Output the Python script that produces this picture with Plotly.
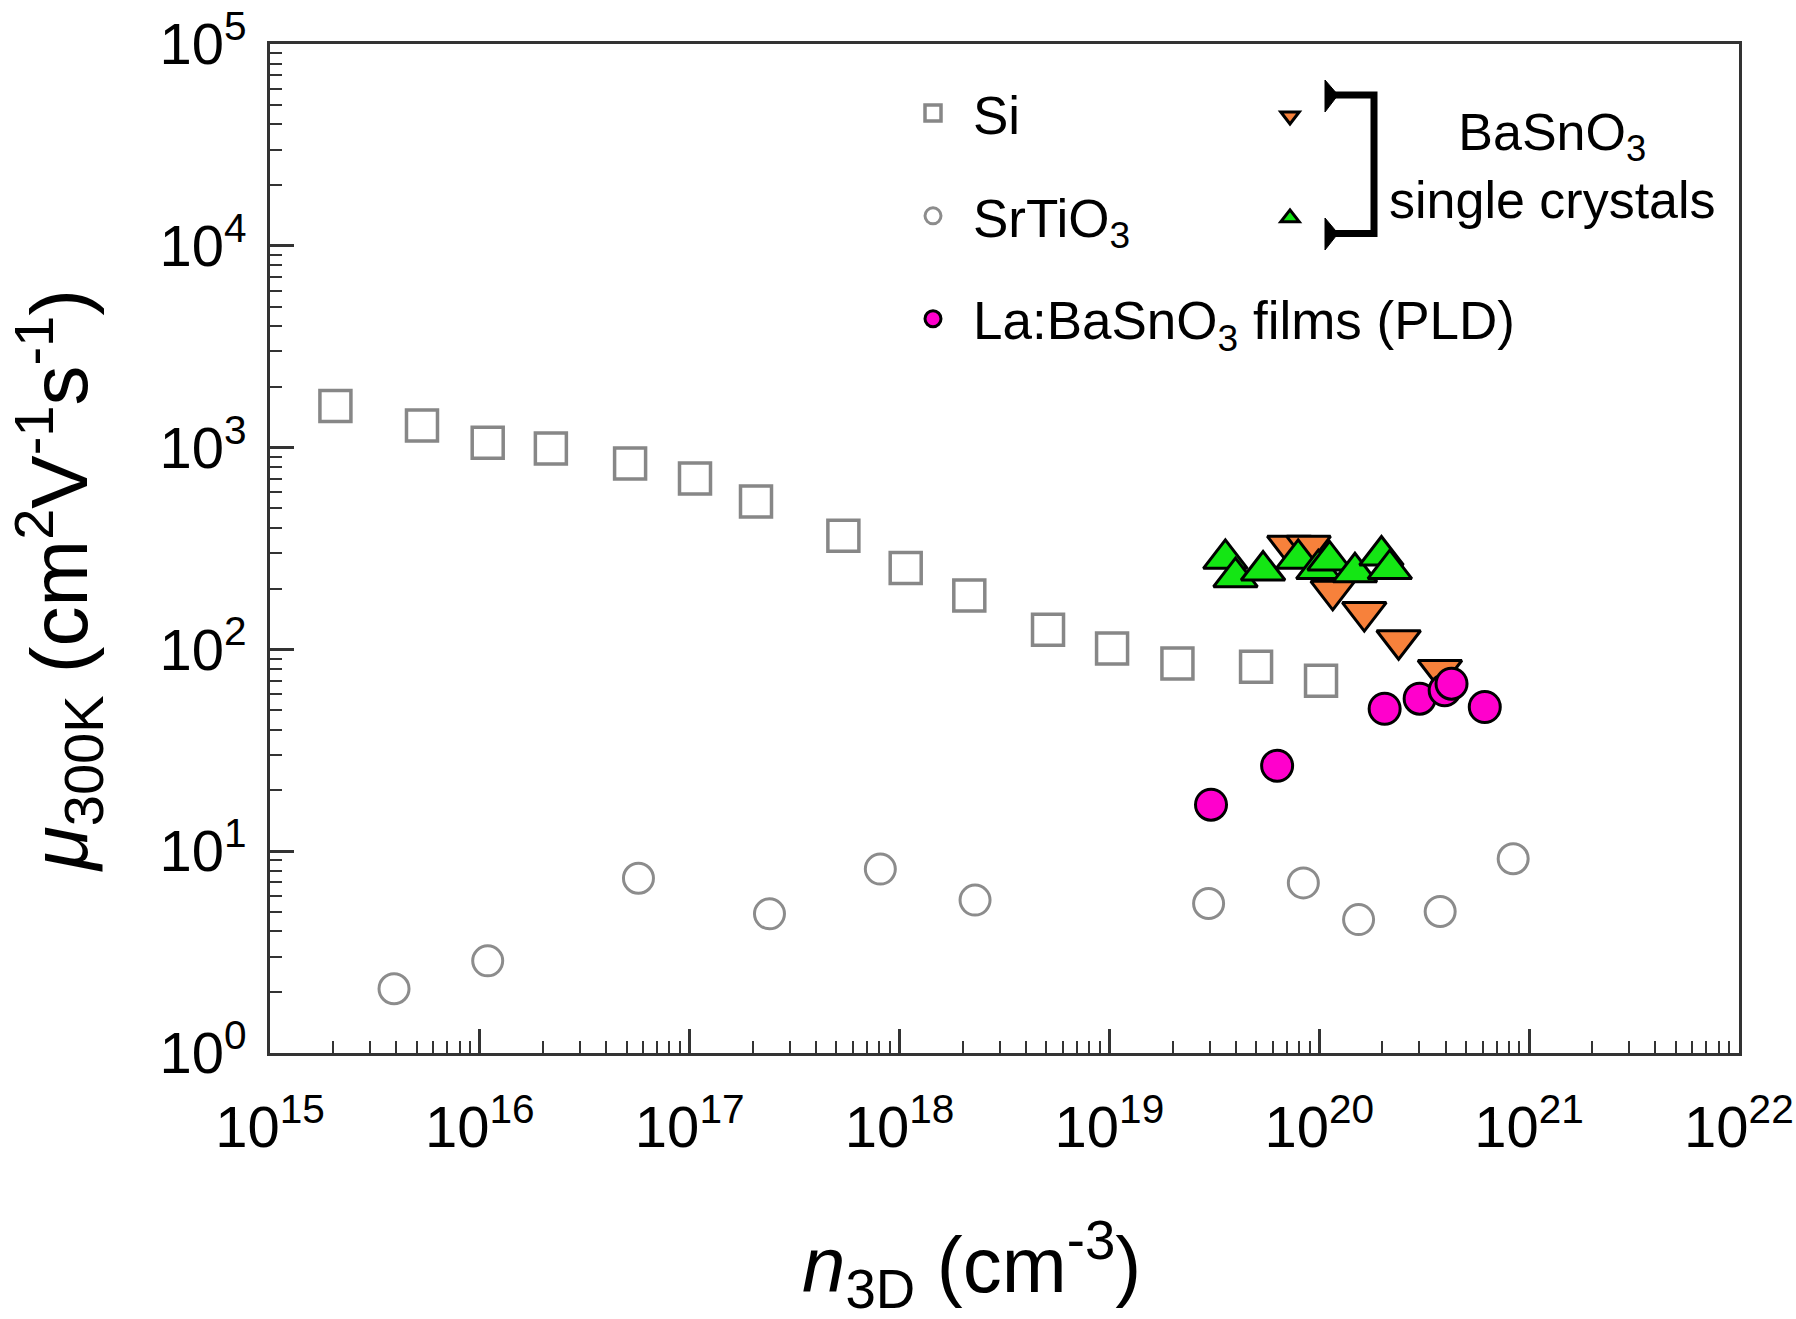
import plotly.graph_objects as go

# ---- data: room-temperature mobility vs. carrier density ----
si_n = [2.05e15, 5.3e15, 1.09e16, 2.18e16, 5.2e16, 1.06e17, 2.07e17, 5.4e17, 1.07e18, 2.15e18,
        5.1e18, 1.03e19, 2.11e19, 5.0e19, 1.02e20]
si_mu = [1607, 1286, 1056, 989, 834, 703, 541, 366, 253, 185, 125, 101, 85, 82, 70]

sto_n = [3.9e15, 1.09e16, 5.7e16, 2.4e17, 8.1e17, 2.29e18, 2.97e19, 8.4e19, 1.54e20, 3.77e20, 8.4e20]
sto_mu = [2.08, 2.86, 7.34, 4.89, 8.15, 5.72, 5.50, 6.96, 4.58, 5.02, 9.17]

bso_a_n = [7.2e19, 8.9e19, 1.16e20, 1.64e20, 2.39e20, 3.76e20]
bso_a_mu = [326, 326, 195, 153, 111, 79]

bso_b_n = [3.57e19, 3.99e19, 5.4e19, 7.94e19, 9.9e19, 1.12e20, 1.48e20, 1.98e20, 2.17e20]
bso_b_mu = [281, 228, 246, 281, 250, 276, 241, 292, 250]

labso_n = [3.05e19, 6.3e19, 2.05e20, 3.01e20, 3.96e20, 4.27e20, 6.15e20]
labso_mu = [17.0, 26.5, 50.8, 57.0, 62.7, 67.6, 51.8]

x_exponents = [15, 16, 17, 18, 19, 20, 21, 22]
y_exponents = [0, 1, 2, 3, 4, 5]
x_tickvals = [10.0 ** e for e in x_exponents]
x_ticktext = ["10<sup>%d</sup>" % e for e in x_exponents]
y_tickvals = [10.0 ** e for e in y_exponents]
y_ticktext = ["10<sup>%d</sup>" % e for e in y_exponents]

FONT = "Liberation Sans, Arial, sans-serif"
W, H = 1796, 1319
L, R, T, B = 270, 1739, 44, 1053   # plot-area edges in pixels


def px(x):
    return (x - L) / (R - L)


def py(y):
    return (B - y) / (B - T)


fig = go.Figure()

fig.add_trace(go.Scatter(
    x=si_n, y=si_mu, mode="markers", name="Si", legendgroup="si",
    marker=dict(symbol="square-open", size=31, color="#878787", line=dict(width=3.5)),
))
fig.add_trace(go.Scatter(
    x=sto_n, y=sto_mu, mode="markers", name="SrTiO<sub>3</sub>", legendgroup="sto",
    marker=dict(symbol="circle-open", size=30, color="#8c8c8c", line=dict(width=3)),
))
fig.add_trace(go.Scatter(
    x=bso_a_n, y=bso_a_mu, mode="markers", name=" ", legend="legend2", legendgroup="a",
    marker=dict(symbol="triangle-down", size=38, color="#f7813b", line=dict(width=3, color="black")),
))
fig.add_trace(go.Scatter(
    x=bso_b_n, y=bso_b_mu, mode="markers", name=" ", legend="legend2", legendgroup="b",
    marker=dict(symbol="triangle-up", size=38, color="#14e614", line=dict(width=3, color="black")),
))
fig.add_trace(go.Scatter(
    x=labso_n, y=labso_mu, mode="markers", name="La:BaSnO<sub>3</sub> films (PLD)", legendgroup="la",
    marker=dict(symbol="circle", size=31, color="#ff00cc", line=dict(width=3, color="black")),
))

axis_common = dict(
    type="log", tickmode="array",
    showline=True, linecolor="#333333", linewidth=2.5, mirror=True,
    ticks="inside", ticklen=24, tickwidth=2.5, tickcolor="#333333",
    showgrid=False, zeroline=False,
    tickfont=dict(family=FONT, size=58, color="black"),
    minor=dict(ticks="inside", ticklen=12, tickwidth=2, tickcolor="#333333", dtick="D1", showgrid=False),
)

fig.update_xaxes(range=[15, 22.0004], tickvals=x_tickvals, ticktext=x_ticktext,
                 ticklabelstandoff=22, **axis_common)
fig.update_yaxes(range=[-0.0004, 5.0004], tickvals=y_tickvals, ticktext=y_ticktext,
                 ticklabelstandoff=9, **axis_common)

# bracket grouping the two single-crystal data sets
bracket = "M {} {} L {} {} L {} {} L {} {}".format(
    px(1333), py(95), px(1374), py(95), px(1374), py(233.5), px(1333), py(233.5))
wedge_top = "M {} {} L {} {} L {} {} Z".format(px(1325), py(80), px(1325), py(112), px(1338), py(95))
wedge_bot = "M {} {} L {} {} L {} {} Z".format(px(1325), py(218), px(1325), py(250), px(1338), py(233.5))

shapes = [
    dict(type="path", xref="paper", yref="paper", path=bracket,
         line=dict(color="black", width=7)),
    dict(type="path", xref="paper", yref="paper", path=wedge_top,
         line=dict(color="black", width=1), fillcolor="black"),
    dict(type="path", xref="paper", yref="paper", path=wedge_bot,
         line=dict(color="black", width=1), fillcolor="black"),
]

annotations = [
    dict(text="BaSnO<sub>3</sub><br>single crystals", xref="paper", yref="paper",
         x=px(1552), y=py(166), xanchor="center", yanchor="middle", showarrow=False,
         font=dict(family=FONT, size=52, color="black")),
    dict(text="<i>n</i><sub>3D</sub> (cm<sup>-3</sup>)", xref="paper", yref="paper",
         x=px(971), y=py(1265), xanchor="center", yanchor="middle", showarrow=False,
         font=dict(family=FONT, size=78, color="black")),
    dict(text="<i>μ</i><sub>300K</sub> (cm<sup>2</sup>V<sup>-1</sup>s<sup>-1</sup>)", xref="paper", yref="paper",
         x=px(58), y=py(581), xanchor="center", yanchor="middle", showarrow=False, textangle=-90,
         font=dict(family=FONT, size=80, color="black")),
]

legend_common = dict(
    xanchor="left", yanchor="top", bgcolor="rgba(0,0,0,0)", borderwidth=0,
    font=dict(family=FONT, size=53, color="black"), itemsizing="trace", traceorder="grouped",
)

fig.update_layout(
    width=W, height=H,
    margin=dict(l=L, r=W - R, t=T, b=H - B, autoexpand=False),
    paper_bgcolor="white", plot_bgcolor="white",
    showlegend=True,
    legend=dict(x=px(893), y=py(72), tracegroupgap=31, itemwidth=70, **legend_common),
    legend2=dict(x=px(1260), y=py(75), tracegroupgap=30, itemwidth=50, **legend_common),
    shapes=shapes,
    annotations=annotations,
)

fig.write_html("out.html")
